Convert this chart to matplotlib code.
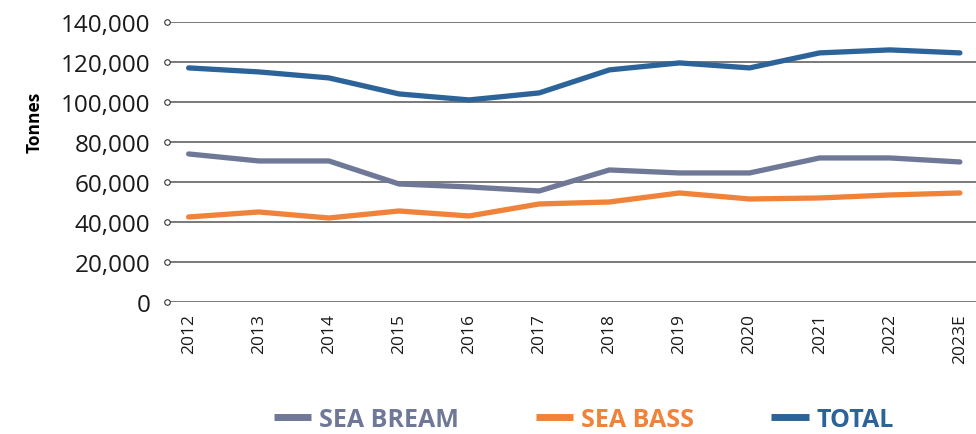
import matplotlib
matplotlib.use("Agg")
from matplotlib import pyplot as plt
from matplotlib import transforms
from matplotlib.lines import Line2D

plt.rcParams['font.family'] = ['Open Sans', 'DejaVu Sans']

years = ["2012", "2013", "2014", "2015", "2016", "2017", "2018", "2019", "2020", "2021", "2022", "2023E"]
sea_bream = [74000, 70500, 70500, 59000, 57500, 55500, 66000, 64500, 64500, 72000, 72000, 70000]
sea_bass = [42500, 45000, 42000, 45500, 43000, 49000, 50000, 54500, 51500, 52000, 53500, 54500]
total = [117000, 115000, 112000, 104000, 101000, 104500, 116000, 119500, 117000, 124500, 126000, 124500]
yticks = [0, 20000, 40000, 60000, 80000, 100000, 120000, 140000]

c_bream = "#6f7896"
c_bass = "#f0823a"
c_total = "#2c6399"

fig = plt.figure(figsize=(9.76, 4.35), dpi=100)
ax = fig.add_axes([0.171, 0.3034, 0.829, 0.644])

x = list(range(len(years)))
ax.plot(x, sea_bream, color=c_bream, lw=3.8, solid_capstyle='round', solid_joinstyle='round', zorder=3)
ax.plot(x, sea_bass, color=c_bass, lw=3.8, solid_capstyle='round', solid_joinstyle='round', zorder=3)
ax.plot(x, total, color=c_total, lw=3.8, solid_capstyle='round', solid_joinstyle='round', zorder=3)

ax.set_xlim(-0.31, 11.23)
ax.set_ylim(0, 140000)
ax.set_yticks(yticks)
ax.set_yticklabels(["{:,}".format(v) for v in yticks], fontsize=17.5, color="#1a1a1a")
ax.set_xticks(x)
ax.set_xticklabels(years, rotation=90, fontsize=12.5, color="#1a1a1a")
ax.tick_params(axis='both', length=0)
ax.tick_params(axis='y', pad=12)
ax.tick_params(axis='x', pad=8)

for s in ax.spines.values():
    s.set_visible(False)
ax.yaxis.grid(True, color="#555555", lw=1.1)
ax.set_axisbelow(True)

# small open circles at left end of gridlines
trans = transforms.blended_transform_factory(ax.transAxes, ax.transData)
ax.plot([0] * len(yticks), yticks, 'o', mfc='white', mec='#333333', ms=4, mew=0.8,
        transform=trans, clip_on=False, zorder=4)

ax.set_ylabel("Tonnes", fontsize=12.5, fontweight='bold')
ax.yaxis.set_label_coords(-0.152, 0.646)

handles = [Line2D([], [], color=c_bream, lw=5, solid_capstyle='butt'),
           Line2D([], [], color=c_bass, lw=5, solid_capstyle='butt'),
           Line2D([], [], color=c_total, lw=5, solid_capstyle='butt')]
leg = fig.legend(handles, ["SEA BREAM", "SEA BASS", "TOTAL"], loc='center',
                 bbox_to_anchor=(0.598, 0.034), ncol=3, frameon=False,
                 handlelength=1.5, handletextpad=0.3, columnspacing=3.1,
                 prop={'size': 18, 'weight': 'bold'}, labelcolor='linecolor')

fig.savefig("out.png", dpi=100)
